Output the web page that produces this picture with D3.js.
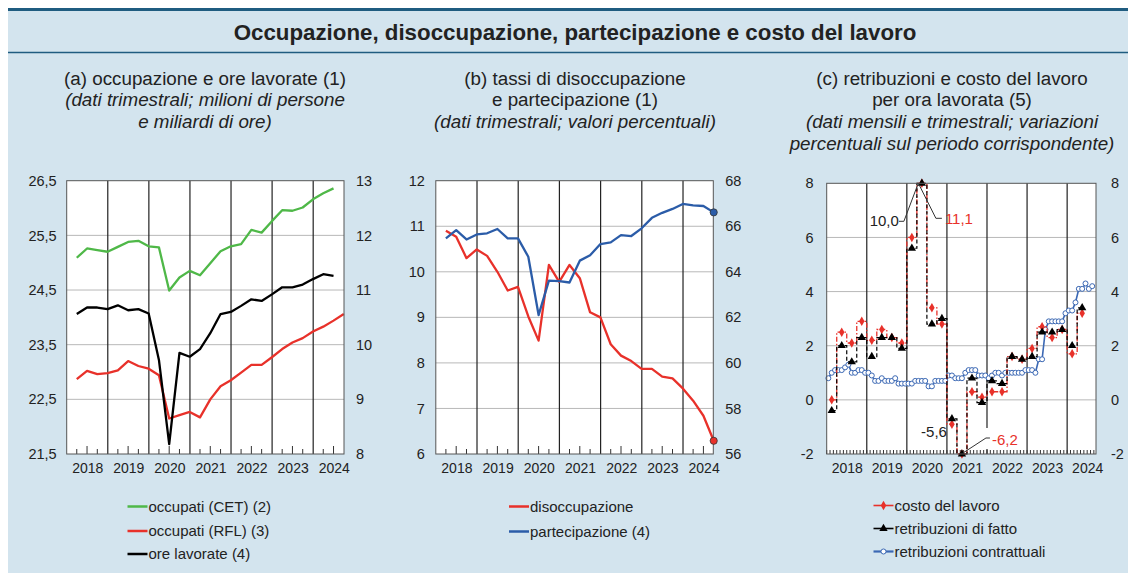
<!DOCTYPE html>
<html>
<head>
<meta charset="utf-8">
<script src="https://cdn.jsdelivr.net/npm/d3@7"></script>
<style>
  body { margin: 0; background: #fff; }
  svg { display: block; font-family: 'Liberation Sans', Arial, sans-serif; }
</style>
</head>
<body>
<svg id="chart" width="1128" height="573"></svg>
<script>
const years = [2018, 2019, 2020, 2021, 2022, 2023, 2024]

// (a) quarterly from 2018Q1; millions of persons (left) and billions of hours (right)
const occupatiCET = [25.09, 25.26, 25.23, 25.20, 25.29, 25.38, 25.40, 25.30, 25.28, 24.49, 24.73, 24.85, 24.77, 24.99, 25.21, 25.30, 25.34, 25.60, 25.55, 25.76, 25.96, 25.95, 26.01, 26.16, 26.27, 26.36]
const occupatiRFL = [22.87, 23.02, 22.96, 22.98, 23.03, 23.20, 23.11, 23.06, 22.94, 22.15, 22.21, 22.27, 22.17, 22.50, 22.74, 22.85, 22.99, 23.13, 23.13, 23.27, 23.42, 23.54, 23.62, 23.74, 23.83, 23.94, 24.06]
const oreLavorate = [10.56, 10.68, 10.68, 10.65, 10.72, 10.63, 10.65, 10.57, 9.72, 8.18, 9.85, 9.78, 9.92, 10.21, 10.56, 10.60, 10.71, 10.83, 10.80, 10.92, 11.05, 11.05, 11.10, 11.20, 11.29, 11.26]

// (b) quarterly from 2018Q1; percent
const disoccupazione = [10.90, 10.77, 10.30, 10.49, 10.35, 10.00, 9.59, 9.67, 9.02, 8.49, 10.15, 9.78, 10.15, 9.86, 9.11, 9.00, 8.41, 8.16, 8.04, 7.87, 7.87, 7.70, 7.66, 7.44, 7.17, 6.84, 6.29]
const partecipazione = [65.47, 65.83, 65.42, 65.64, 65.69, 65.88, 65.47, 65.47, 64.66, 62.10, 63.61, 63.59, 63.53, 64.49, 64.73, 65.22, 65.29, 65.61, 65.57, 65.91, 66.37, 66.59, 66.76, 66.98, 66.92, 66.89, 66.61]

// (c) quarterly from 2018Q1 and monthly from Jan 2018; percent changes
const costoLavoro = [0.0, 2.5, 2.1, 2.9, 2.2, 2.6, 2.3, 2.1, 6.0, 11.1, 3.4, 2.8, -0.9, -6.2, 0.3, 0.1, 0.3, 0.3, 1.6, 1.5, 1.9, 2.7, 2.3, 2.6, 1.7, 3.2]
const retribuzioniFatto = [-0.4, 2.0, 1.4, 2.3, 1.6, 2.3, 2.3, 1.9, 5.6, 10.0, 2.8, 3.0, -0.7, -5.6, 0.8, -0.1, 0.7, 0.6, 1.6, 1.5, 1.6, 2.5, 2.5, 2.6, 2.0, 3.4]
const retribuzioniContrattuali = [
  0.8, 1.0, 1.1, 1.1, 1.1, 1.2, 1.3, 1.0, 1.0, 1.1, 1.1, 1.0,
  1.0, 0.9, 0.7, 0.7, 0.8, 0.7, 0.7, 0.7, 0.8, 0.6, 0.6, 0.6,
  0.6, 0.6, 0.7, 0.7, 0.7, 0.7, 0.5, 0.5, 0.7, 0.7, 0.7, 0.7,
  0.9, 0.9, 0.8, 0.8, 0.8, 1.0, 1.1, 1.1, 1.1, 0.9, 0.9, 0.9,
  0.8, 0.9, 1.0, 1.0, 0.9, 1.0, 1.0, 1.0, 1.0, 1.0, 1.0, 1.1,
  1.1, 1.1, 1.0, 1.5, 1.5, 2.6, 2.9, 2.9, 2.9, 2.9, 2.9, 3.2,
  3.3, 3.3, 3.6, 4.1, 4.1, 4.3, 4.1, 4.2
]

const leftTicksA = [21.5, 22.5, 23.5, 24.5, 25.5, 26.5]
const rightTicksA = [8, 9, 10, 11, 12, 13]
const leftTicksB = [6, 7, 8, 9, 10, 11, 12]
const rightTicksB = [56, 58, 60, 62, 64, 66, 68]
const ticksC = [-2, 0, 2, 4, 6, 8]

const RED = '#e8312a'
const GREEN = '#4fb848'
const BLUE = '#2b5ca8'
const BLUE_C = '#3b68b4'
const DARK = '#1f5c80'
const BG = '#d3e4ee'

const locale = d3.formatLocale({ decimal: ',', thousands: '.', grouping: [3], currency: ['', '€'], minus: '-' })
const fmt1 = locale.format('.1f')
const fmt0 = locale.format('d')

const svg = d3.select('#chart')

const quarterDate = i => 2018 + 0.245 + 0.25 * i
const midQuarterDate = i => 2018 + (3 * i + 1.5) / 12
const monthDate = m => 2018 + (m + 0.5) / 12

/**
 * Draws the light blue sheet, the two rules and the main title
 */
function drawSheet () {
  svg.append('rect').attr('x', 8).attr('y', 8).attr('width', 1120).attr('height', 565).attr('fill', BG)
  svg.append('line').attr('x1', 8).attr('x2', 1128).attr('y1', 9.5).attr('y2', 9.5)
    .attr('stroke', DARK).attr('stroke-width', 3)
  svg.append('line').attr('x1', 8).attr('x2', 1128).attr('y1', 52.5).attr('y2', 52.5)
    .attr('stroke', DARK).attr('stroke-width', 1.5)
  svg.append('text').attr('x', 575).attr('y', 39.5).attr('text-anchor', 'middle')
    .style('font-size', '22.3px').style('font-weight', 'bold').attr('fill', '#222')
    .text('Occupazione, disoccupazione, partecipazione e costo del lavoro')
}

/**
 * Writes the sub-title of a panel, one line per entry
 *
 * @param {number} cx The horizontal centre of the title
 * @param {object[]} lines The lines, each with its text and style
 */
function drawSubtitle (cx, lines) {
  lines.forEach((l, i) => {
    svg.append('text').attr('x', cx).attr('y', 84.5 + i * 21.7).attr('text-anchor', 'middle')
      .style('font-size', '18.8px').style('font-style', l.italic ? 'italic' : 'normal')
      .attr('fill', '#222').text(l.text)
  })
}

/**
 * Draws the frame of a panel: white area, grid, year lines, minor ticks, axes
 *
 * @param {object} box The edges of the plot area
 * @param {*} x The time scale
 * @param {*} yLeft The scale for the left axis
 * @param {*} yRight The scale for the right axis
 * @param {object} opts Tick values, formats and paddings
 * @returns {*} The group where the series go
 */
function drawFrame (box, x, yLeft, yRight, opts) {
  const g = svg.append('g')
  g.append('rect').attr('x', box.x0).attr('y', box.y0)
    .attr('width', box.x1 - box.x0).attr('height', box.y1 - box.y0).attr('fill', '#fff')

  g.selectAll('.hgrid').data(opts.leftTicks.slice(1, -1)).enter().append('line')
    .attr('x1', box.x0).attr('x2', box.x1)
    .attr('y1', d => yLeft(d)).attr('y2', d => yLeft(d))
    .attr('stroke', '#b8b8b8').attr('stroke-width', 1)

  g.selectAll('.vgrid').data(years.slice(1)).enter().append('line')
    .attr('x1', d => x(d)).attr('x2', d => x(d))
    .attr('y1', box.y0).attr('y2', box.y1)
    .attr('stroke', '#222').attr('stroke-width', 1.2)

  g.selectAll('.minor').data(opts.minor).enter().append('line')
    .attr('x1', d => x(d.t)).attr('x2', d => x(d.t))
    .attr('y1', box.y1).attr('y2', d => box.y1 - d.h)
    .attr('stroke', '#333').attr('stroke-width', 1)

  const left = g.append('g').attr('transform', `translate(${box.x0},0)`)
    .call(d3.axisLeft(yLeft).tickValues(opts.leftTicks).tickFormat(opts.leftFmt).tickSize(0).tickPadding(opts.padLeft))
  const right = g.append('g').attr('transform', `translate(${box.x1},0)`)
    .call(d3.axisRight(yRight).tickValues(opts.rightTicks).tickFormat(opts.rightFmt).tickSize(0).tickPadding(opts.padRight))
  const bottom = g.append('g').attr('transform', `translate(0,${box.y1})`)
    .call(d3.axisBottom(x).tickValues(years.map(y => y + 0.5)).tickFormat(d => Math.floor(d)).tickSize(0).tickPadding(9))
  ;[left, right, bottom].forEach(a => {
    a.select('.domain').remove()
    a.selectAll('text').style('font-size', '14.5px').attr('fill', '#222')
    a.attr('font-family', null)
  })
  bottom.selectAll('text').style('font-size', '14px')
  return g
}

/**
 * Draws the border of a plot area on top of everything
 *
 * @param {object} box The edges of the plot area
 */
function drawBorder (box) {
  svg.append('rect').attr('x', box.x0).attr('y', box.y0)
    .attr('width', box.x1 - box.x0).attr('height', box.y1 - box.y0)
    .attr('fill', 'none').attr('stroke', '#555').attr('stroke-width', 1)
}

/**
 * Draws a legend: a short line, an optional marker and the label
 *
 * @param {number} x0 Left end of the swatch
 * @param {object[]} items The entries
 */
function drawLegend (x0, items) {
  items.forEach(it => {
    svg.append('line').attr('x1', x0).attr('x2', x0 + 20).attr('y1', it.y).attr('y2', it.y)
      .attr('stroke', it.color).attr('stroke-width', it.width || 2.5)
    if (it.symbol) {
      svg.append('path').attr('d', d3.symbol(it.symbol, it.size)())
        .attr('transform', `translate(${x0 + 10},${it.y})`)
        .attr('fill', it.fill).attr('stroke', it.stroke || 'none').attr('stroke-width', 1)
    }
    svg.append('text').attr('x', x0 + 21).attr('y', it.y + 5.2)
      .style('font-size', '15px').attr('fill', '#222').text(it.label)
  })
}

function quarterMinor () {
  const out = []
  years.forEach(y => {
    [0, 1, 2].forEach(q => out.push({ t: y + 0.245 + 0.25 * q, h: q === 1 ? 8 : 5 }))
  })
  return out
}

// ---------- panel (a)
function drawPanelA () {
  const box = { x0: 66.7, x1: 344, y0: 180.7, y1: 454 }
  const x = d3.scaleLinear().domain([2018, 2024.75]).range([box.x0, box.x1])
  const yL = d3.scaleLinear().domain([21.5, 26.5]).range([box.y1, box.y0])
  const yR = d3.scaleLinear().domain([8, 13]).range([box.y1, box.y0])
  const g = drawFrame(box, x, yL, yR, {
    leftTicks: leftTicksA, rightTicks: rightTicksA, leftFmt: fmt1, rightFmt: fmt0,
    padLeft: 10, padRight: 12, minor: quarterMinor().filter(d => d.t < 2024.7)
  })
  const series = [
    { data: occupatiCET, y: yL, color: GREEN },
    { data: occupatiRFL, y: yL, color: RED },
    { data: oreLavorate, y: yR, color: '#000' }
  ]
  series.forEach(s => {
    const line = d3.line().x((d, i) => x(quarterDate(i))).y(d => s.y(d))
    g.append('path').attr('d', line(s.data)).attr('fill', 'none')
      .attr('stroke', s.color).attr('stroke-width', 2.3).attr('stroke-linejoin', 'round')
  })
  drawBorder(box)
  drawSubtitle(205, [
    { text: '(a) occupazione e ore lavorate (1)' },
    { text: '(dati trimestrali; milioni di persone', italic: true },
    { text: 'e miliardi di ore)', italic: true }
  ])
  drawLegend(127.5, [
    { y: 506.5, color: GREEN, label: 'occupati (CET) (2)' },
    { y: 531, color: RED, label: 'occupati (RFL) (3)' },
    { y: 554, color: '#000', label: 'ore lavorate (4)' }
  ])
}

// ---------- panel (b)
function drawPanelB () {
  const box = { x0: 435.8, x1: 713.3, y0: 180.7, y1: 454 }
  const x = d3.scaleLinear().domain([2018, 2024.735]).range([box.x0, box.x1])
  const yL = d3.scaleLinear().domain([6, 12]).range([box.y1, box.y0])
  const yR = d3.scaleLinear().domain([56, 68]).range([box.y1, box.y0])
  const g = drawFrame(box, x, yL, yR, {
    leftTicks: leftTicksB, rightTicks: rightTicksB, leftFmt: fmt0, rightFmt: fmt0,
    padLeft: 11, padRight: 12, minor: quarterMinor().filter(d => d.t < 2024.7)
  })
  const series = [
    { data: disoccupazione, y: yL, color: RED },
    { data: partecipazione, y: yR, color: BLUE }
  ]
  series.forEach(s => {
    const line = d3.line().x((d, i) => x(quarterDate(i))).y(d => s.y(d))
    g.append('path').attr('d', line(s.data)).attr('fill', 'none')
      .attr('stroke', s.color).attr('stroke-width', 2.3).attr('stroke-linejoin', 'round')
  })
  drawBorder(box)
  series.forEach(s => {
    const last = s.data.length - 1
    svg.append('circle').attr('cx', x(quarterDate(last))).attr('cy', s.y(s.data[last]))
      .attr('r', 3.6).attr('fill', s.color).attr('stroke', '#333').attr('stroke-width', 0.8)
  })
  drawSubtitle(575, [
    { text: '(b) tassi di disoccupazione' },
    { text: 'e partecipazione (1)' },
    { text: '(dati trimestrali; valori percentuali)', italic: true }
  ])
  drawLegend(509, [
    { y: 506.5, color: RED, label: 'disoccupazione' },
    { y: 531.5, color: BLUE, label: 'partecipazione (4)' }
  ])
}

// ---------- panel (c)
function drawPanelC () {
  const box = { x0: 826.7, x1: 1096, y0: 183.3, y1: 454 }
  const x = d3.scaleLinear().domain([2018, 2024.72]).range([box.x0, box.x1])
  const y = d3.scaleLinear().domain([-2, 8]).range([box.y1, box.y0]).clamp(true)
  const minor = d3.range(0, 81).map(m => ({ t: 2018 + m / 12, h: 4 })).filter(d => d.t < 2024.72)
  const g = drawFrame(box, x, y, y, {
    leftTicks: ticksC, rightTicks: ticksC, leftFmt: fmt0, rightFmt: fmt0,
    padLeft: 13, padRight: 15, minor: minor
  })

  // white box that hides the grid under the -6,2 label
  g.append('rect').attr('x', 983).attr('y', 428).attr('width', 34).attr('height', 21).attr('fill', '#fff')

  const blueLine = d3.line().x((d, i) => x(monthDate(i))).y(d => y(d))
  g.append('path').attr('d', blueLine(retribuzioniContrattuali)).attr('fill', 'none')
    .attr('stroke', BLUE_C).attr('stroke-width', 1.6)
  g.selectAll('.contr').data(retribuzioniContrattuali).enter().append('circle')
    .attr('cx', (d, i) => x(monthDate(i))).attr('cy', d => y(d)).attr('r', 2.5)
    .attr('fill', '#fff').attr('stroke', BLUE_C).attr('stroke-width', 1)

  const stepLine = d3.line().x((d, i) => x(midQuarterDate(i))).y(d => y(d)).curve(d3.curveStep)
  g.append('path').attr('d', stepLine(costoLavoro)).attr('fill', 'none')
    .attr('stroke', RED).attr('stroke-width', 1.3).attr('stroke-dasharray', '5,2,1.5,2')
  g.append('path').attr('d', stepLine(retribuzioniFatto)).attr('fill', 'none')
    .attr('stroke', '#000').attr('stroke-width', 1.2).attr('stroke-dasharray', '4,2.5')

  g.selectAll('.costo').data(costoLavoro).enter().append('path')
    .attr('d', d3.symbol(d3.symbolDiamond, 26)())
    .attr('transform', (d, i) => `translate(${x(midQuarterDate(i))},${y(d)})`)
    .attr('fill', RED)
  g.selectAll('.fatto').data(retribuzioniFatto).enter().append('path')
    .attr('d', d3.symbol(d3.symbolTriangle, 30)())
    .attr('transform', (d, i) => `translate(${x(midQuarterDate(i))},${y(d)})`)
    .attr('fill', '#000')

  drawBorder(box)

  // annotations for the values out of range
  const peakX = x(midQuarterDate(9)) - 4
  const peakY = y(8)
  const lowX = x(midQuarterDate(13))
  const lowY = y(-2)
  svg.append('polyline').attr('points', `${peakX - 19},${peakY + 38} ${peakX - 14},${peakY + 38} ${peakX},${peakY + 1}`)
    .attr('fill', 'none').attr('stroke', '#333').attr('stroke-width', 1)
  svg.append('polyline').attr('points', `${peakX + 1},${peakY + 1} ${peakX + 18},${peakY + 35} ${peakX + 24},${peakY + 35}`)
    .attr('fill', 'none').attr('stroke', '#333').attr('stroke-width', 1)
  svg.append('text').attr('x', peakX - 19).attr('y', peakY + 43).attr('text-anchor', 'end')
    .style('font-size', '15px').attr('fill', '#222').text(fmt1(retribuzioniFatto[9]))
  svg.append('text').attr('x', peakX + 27).attr('y', peakY + 41)
    .style('font-size', '15px').attr('fill', RED).text(fmt1(costoLavoro[9]))
  svg.append('text').attr('x', lowX - 15).attr('y', lowY - 17).attr('text-anchor', 'end')
    .style('font-size', '15px').attr('fill', '#222').text(fmt1(retribuzioniFatto[13]))
  svg.append('polyline').attr('points', `${lowX + 1},${lowY - 1} ${lowX + 24},${lowY - 16} ${lowX + 28},${lowY - 16}`)
    .attr('fill', 'none').attr('stroke', '#333').attr('stroke-width', 1)
  svg.append('text').attr('x', lowX + 30).attr('y', lowY - 9)
    .style('font-size', '15px').attr('fill', RED).text(fmt1(costoLavoro[13]))

  drawSubtitle(952, [
    { text: '(c) retribuzioni e costo del lavoro' },
    { text: 'per ora lavorata (5)' },
    { text: '(dati mensili e trimestrali; variazioni', italic: true },
    { text: 'percentuali sul periodo corrispondente)', italic: true }
  ])
  drawLegend(873.5, [
    { y: 505.5, color: RED, width: 1.6, label: 'costo del lavoro', symbol: d3.symbolDiamond, size: 26, fill: RED },
    { y: 528.5, color: '#000', width: 1.6, label: 'retribuzioni di fatto', symbol: d3.symbolTriangle, size: 30, fill: '#000' },
    { y: 551.5, color: BLUE_C, width: 2.2, label: 'retribuzioni contrattuali', symbol: d3.symbolCircle, size: 20, fill: '#fff', stroke: BLUE_C }
  ])
}

drawSheet()
drawPanelA()
drawPanelB()
drawPanelC()
</script>
</body>
</html>
